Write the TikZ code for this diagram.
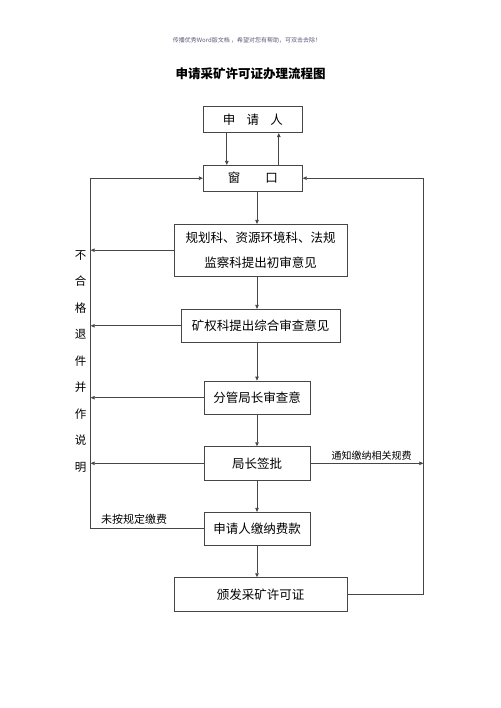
\documentclass[tikz,border=0pt]{standalone}
\usepackage{fontspec}
\newfontfamily\cjk{Noto Sans CJK SC}
\usetikzlibrary{arrows.meta}
\definecolor{boxline}{RGB}{70,70,70}
\definecolor{hdr}{RGB}{90,90,120}
\tikzset{
  box/.style={draw=boxline, line width=0.8pt, rectangle, inner sep=0pt, font=\cjk\fontsize{12.5}{25}\selectfont, align=center},
  arr/.style={draw=boxline, line width=0.8pt, -{Triangle[length=4pt,width=3.5pt]}},
  ln/.style={draw=boxline, line width=0.8pt},
  lbl/.style={font=\cjk\fontsize{10}{12}\selectfont, inner sep=0pt}
}
\begin{document}
\begin{tikzpicture}[x=1pt,y=-1pt]
\useasboundingbox (0,0) rectangle (500,708);
\node[font=\cjk\fontsize{6}{7}\selectfont, text=hdr] (hd) at (247,40) {传播优秀Word版文档 ，希望对您有帮助，可双击去除！};
\node[font=\cjk\bfseries\fontsize{12.5}{14}\selectfont] (tt) at (250.5,73.3) {申请采矿许可证办理流程图};

\node[box, minimum width=99pt, minimum height=26.7pt] (app) at (252.8,119.3) {申\hspace{0.9em}请\hspace{0.9em}人};
\node[box, minimum width=99pt, minimum height=25.7pt] (win) at (252.8,178.2) {窗\hspace{2em}口};
\node[box, minimum width=173.3pt, minimum height=51.7pt] (gh) at (260.7,250.2) {规划科、资源环境科、法规\\监察科提出初审意见};
\node[box, minimum width=159pt, minimum height=33pt] (kq) at (260.5,325.8) {矿权科提出综合审查意见};
\node[box, minimum width=106pt, minimum height=33.3pt] (fg) at (257,397.7) {分管局长审查意};
\node[box, minimum width=106pt, minimum height=33.3pt] (jz) at (257,463.3) {局长签批};
\node[box, minimum width=106pt, minimum height=33pt] (jn) at (257,528.8) {申请人缴纳费款};
\node[box, minimum width=173.3pt, minimum height=33.3pt] (bf) at (260.7,594.3) {颁发采矿许可证};

\coordinate (L) at (90.7,178.2);
\coordinate (R) at (423.3,178.2);

% applicant <-> window
\draw[arr] ([xshift=-26pt]app.south) -- ([xshift=-26pt]win.north);
\draw[arr] ([xshift=26pt]win.north) -- ([xshift=26pt]app.south);

% main vertical flow
\draw[arr] (win.south -| fg) -- (gh.north -| fg);
\draw[arr] (gh.south -| fg) -- (kq.north -| fg);
\draw[arr] (kq.south -| fg) -- (fg.north);
\draw[arr] (fg.south) -- (jz.north);
\draw[arr] (jz.south) -- (jn.north);
\draw[arr] (jn.south) -- (bf.north -| fg);

% left return line
\draw[ln] (jn.west) -- (jn.west -| L) -- (L);
\draw[arr] (L) -- (win.west);
\draw[arr] (gh.west) -- (gh.west -| L);
\draw[arr] (kq.west) -- (kq.west -| L);
\draw[arr] (fg.west) -- (fg.west -| L);
\draw[arr] (jz.west) -- (jz.west -| L);

% right line
\draw[ln] (bf.east) -- (bf.east -| R) -- (R);
\draw[arr] (R) -- (win.east);
\draw[arr] (jz.east) -- (jz.east -| R);

% labels
\node[lbl] (tz) at (371.7,456) {通知缴纳相关规费};
\node[lbl, font=\cjk\fontsize{11}{12}\selectfont] (wa) at (134,519.5) {未按规定缴费};
\node[font=\cjk\fontsize{11.5}{26.5}\selectfont, align=center, inner sep=0pt] (bh) at (80.7,361.5) {不\\合\\格\\退\\件\\并\\作\\说\\明};
\end{tikzpicture}
\end{document}
